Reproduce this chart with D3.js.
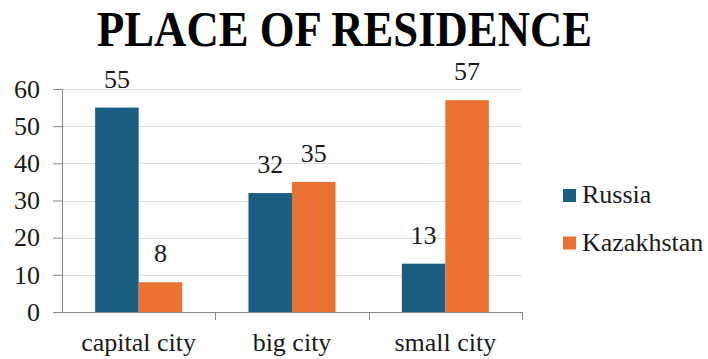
<!DOCTYPE html>
<html>
<head>
<meta charset="utf-8">
<script src="https://cdn.jsdelivr.net/npm/d3@7"></script>
<style>
  html, body { margin: 0; padding: 0; background: #fff; }
  svg text { font-family: "Liberation Serif", "Times New Roman", serif !important; }
</style>
</head>
<body>
<svg id="chart" width="708" height="359"></svg>
<script>
// Place of residence, percent of respondents
const categories = ["capital city", "big city", "small city"];
const seriesNames = ["Russia", "Kazakhstan"];
const russia = [55, 32, 13];
const kazakhstan = [8, 35, 57];
const yTicks = [0, 10, 20, 30, 40, 50, 60];
const colors = ["#1a5f82", "#e97233"];

const serif = "Liberation Serif, Times New Roman, serif";
const labelSize = 26;
const svg = d3.select("#chart");
const plotLeft = 62, plotRight = 522, plotTop = 89, plotBottom = 312;

const x = d3.scaleBand().domain(categories).range([plotLeft, plotRight]).padding(0);
const xs = d3.scaleBand().domain(seriesNames).range([0, x.bandwidth()])
  .paddingInner(0).paddingOuter(0.762);
const y = d3.scaleLinear().domain([0, 60]).range([plotBottom, plotTop]);

const values = { Russia: russia, Kazakhstan: kazakhstan };

// Title
svg.append("text")
  .attr("x", 344.5).attr("y", 46)
  .attr("text-anchor", "middle")
  .attr("font-family", serif)
  .attr("font-size", 50).attr("font-weight", "bold")
  .attr("textLength", 495).attr("lengthAdjust", "spacingAndGlyphs")
  .attr("fill", "#000")
  .text("PLACE OF RESIDENCE");

// Gridlines
svg.append("g").selectAll("line").data(yTicks.filter(d => d > 0)).join("line")
  .attr("x1", plotLeft).attr("x2", plotRight)
  .attr("y1", d => Math.round(y(d)) + 0.5).attr("y2", d => Math.round(y(d)) + 0.5)
  .attr("stroke", "#dedede").attr("stroke-width", 1);

// Bars and value labels
seriesNames.forEach((s, si) => {
  const g = svg.append("g");
  g.selectAll("rect").data(categories).join("rect")
    .attr("x", c => x(c) + xs(s))
    .attr("y", (c, i) => y(values[s][i]))
    .attr("width", xs.bandwidth())
    .attr("height", (c, i) => y(0) - y(values[s][i]))
    .attr("fill", colors[si]);
  g.selectAll("text").data(categories).join("text")
    .attr("x", c => x(c) + xs(s) + xs.bandwidth() / 2)
    .attr("y", (c, i) => y(values[s][i]) - 20)
    .attr("text-anchor", "middle")
    .attr("font-family", serif)
    .attr("font-size", labelSize).attr("fill", "#1a1a1a")
    .text((c, i) => values[s][i]);
});

// Y axis
const yAxis = d3.axisLeft(y).tickValues(yTicks).tickSize(9).tickPadding(13);
const yg = svg.append("g").attr("transform", `translate(${plotLeft},0)`).call(yAxis)
  .attr("font-family", serif);
yg.select(".domain").attr("stroke", "#868686").attr("d", `M0.5,${plotBottom}V${plotTop}`);
yg.selectAll(".tick line").attr("stroke", "#868686");
yg.selectAll(".tick text").attr("font-size", labelSize).attr("fill", "#1a1a1a")
  .attr("font-family", serif);

// X axis with tick marks between categories
svg.append("line").attr("x1", plotLeft).attr("x2", plotRight)
  .attr("y1", plotBottom + 0.5).attr("y2", plotBottom + 0.5)
  .attr("stroke", "#868686");
const bounds = categories.map(c => x(c)).concat([x(categories[categories.length - 1]) + x.bandwidth()]);
svg.append("g").selectAll("line").data(bounds.slice(1)).join("line")
  .attr("x1", d => Math.round(d) + 0.5).attr("x2", d => Math.round(d) + 0.5)
  .attr("y1", plotBottom).attr("y2", plotBottom + 8)
  .attr("stroke", "#868686");
svg.append("g").selectAll("text").data(categories).join("text")
  .attr("x", c => x(c) + x.bandwidth() / 2)
  .attr("y", 351)
  .attr("text-anchor", "middle")
  .attr("font-family", serif)
  .attr("font-size", labelSize).attr("fill", "#1a1a1a")
  .text(c => c);

// Legend
const legend = svg.append("g").selectAll("g").data(seriesNames).join("g")
  .attr("transform", (d, i) => `translate(563,${189 + i * 47.5})`);
legend.append("rect").attr("width", 13).attr("height", 13)
  .attr("fill", (d, i) => colors[i]);
legend.append("text").attr("x", 19).attr("y", 14)
  .attr("font-family", serif)
  .attr("font-size", labelSize).attr("fill", "#1a1a1a")
  .text(d => d);
</script>
</body>
</html>
